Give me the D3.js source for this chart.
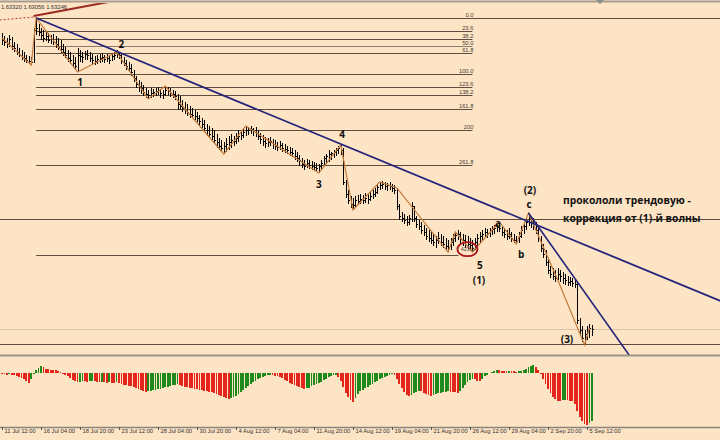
<!DOCTYPE html>
<html><head><meta charset="utf-8">
<script src="https://cdn.jsdelivr.net/npm/d3@7"></script>
<style>html,body{margin:0;padding:0;background:#FDE4C5;overflow:hidden}</style>
</head><body><svg id="c" width="720" height="440"></svg>
<script>
// ---- data (H4 bars, prices in pips above 1.6000) ----
const tickBars = [0,16,32,48,64,80,96,112,128,144,160,176,192,208,224,240];
const tickLabels = ["11 Jul 12:00","16 Jul 04:00","18 Jul 20:00","23 Jul 12:00","28 Jul 04:00","30 Jul 20:00","4 Aug 12:00","7 Aug 04:00","11 Aug 20:00","14 Aug 12:00","19 Aug 04:00","21 Aug 20:00","26 Aug 12:00","29 Aug 04:00","2 Sep 20:00","5 Sep 12:00"];
const highPips = [1146,1137,1131,1140,1134,1119,1113,1101,1095,1089,1080,1077,1074,1161,1191,1173,1161,1155,1149,1146,1140,1143,1137,1131,1125,1113,1104,1095,1089,1080,1074,1101,1095,1089,1092,1095,1089,1083,1077,1080,1083,1086,1080,1083,1080,1086,1089,1095,1089,1083,1074,1065,1059,1053,1035,1017,1005,999,990,981,975,981,978,981,984,978,975,987,984,981,975,972,963,957,945,939,933,927,921,915,909,900,891,885,873,867,861,855,843,831,825,819,831,837,843,837,846,855,849,861,867,864,867,861,864,855,846,840,834,831,834,828,825,819,822,816,813,807,804,801,795,789,780,771,765,768,765,762,759,756,753,765,777,783,795,789,795,801,807,810,801,705,675,657,651,657,660,663,660,666,663,669,675,681,693,699,702,699,696,699,693,690,681,633,609,603,597,600,639,627,597,585,579,570,561,555,549,543,537,549,543,537,531,525,531,543,549,555,549,543,540,537,531,525,531,543,549,555,561,558,561,567,570,573,579,567,561,555,561,549,543,537,549,567,579,591,606,597,591,579,561,537,513,495,471,447,441,435,441,435,429,423,417,414,411,408,399,291,267,255,267,273,270];
const lowPips = [1110,1107,1101,1104,1095,1089,1080,1074,1065,1059,1056,1053,1050,1056,1140,1137,1125,1119,1122,1116,1113,1110,1101,1095,1086,1077,1071,1059,1053,1044,1035,1029,1059,1056,1065,1065,1059,1053,1050,1053,1056,1059,1056,1059,1053,1062,1065,1071,1068,1053,1047,1035,1029,1017,999,981,969,963,957,951,948,951,954,957,960,951,948,957,960,954,951,945,915,915,909,903,897,891,891,885,879,867,861,849,837,831,825,813,801,795,789,783,789,795,801,807,813,819,825,831,837,840,843,837,834,825,813,807,801,804,807,798,795,792,795,789,786,783,777,774,765,759,747,741,735,741,738,735,732,729,726,735,747,753,759,765,771,777,783,780,690,651,633,621,615,624,630,633,633,636,633,642,648,654,663,675,678,675,672,675,669,663,615,585,579,573,567,570,579,579,561,555,543,537,525,519,513,507,501,513,507,501,495,489,495,507,519,525,513,507,501,498,495,489,495,507,516,525,531,531,534,540,543,549,549,537,531,525,528,519,516,513,516,531,543,555,567,561,555,543,519,489,471,447,423,411,405,399,405,399,393,390,387,387,384,381,273,237,219,210,225,231,237];
const closePips = [1125,1119,1113,1128,1107,1101,1089,1080,1074,1071,1065,1062,1059,1155,1161,1149,1140,1131,1137,1125,1128,1119,1113,1104,1098,1089,1080,1071,1065,1056,1047,1080,1077,1074,1083,1080,1071,1065,1062,1068,1071,1074,1068,1071,1065,1077,1080,1086,1080,1065,1056,1047,1041,1029,1011,993,987,981,969,963,960,966,969,972,975,966,963,975,972,966,963,957,933,927,921,915,909,903,900,897,891,882,873,861,855,843,837,825,819,807,801,807,813,819,825,822,831,837,840,849,855,855,858,852,846,837,828,822,816,819,822,813,807,804,810,801,798,795,789,786,777,771,765,753,747,756,750,747,744,741,747,756,771,777,783,786,789,795,801,795,699,663,645,633,630,645,642,648,645,651,648,657,663,669,684,690,693,687,690,687,681,675,627,597,591,585,579,591,627,591,573,567,555,549,537,531,525,519,525,531,519,513,507,501,519,531,540,543,531,525,519,513,510,501,519,531,537,543,549,546,555,558,561,564,561,549,543,537,543,531,525,522,537,555,567,579,591,579,567,555,531,501,483,459,435,423,417,411,423,417,411,405,399,402,396,393,285,255,231,243,255,261,258];
const oscValues = [-1,-1,-1.5,-1,-1.5,-2,-3,-3.5,-4.5,-6,-7.5,-10,-6,-1,3,5.5,7.5,6,4.5,4,3.5,3.5,3,2.5,1,-0.5,-2,-3,-5,-6.5,-7.5,-9,-8.5,-8,-8,-8.5,-8,-7.5,-8,-8.5,-9,-8.5,-9,-9.5,-9,-9.5,-10,-9,-10,-11,-11.5,-12,-12.5,-13,-14,-15,-16,-17,-18,-18.5,-18,-17.5,-17,-16.5,-16,-15.5,-15,-14,-13.5,-13,-12,-11.5,-11,-12,-13,-13.5,-14,-14.5,-15,-15.5,-16,-16.5,-17,-17.5,-18,-18.5,-19,-20,-21,-22,-23,-24,-25,-25.5,-25,-24,-22.5,-21,-19,-17,-15,-13,-11,-9,-7.5,-6,-4.5,-3.5,-2.5,-2,-1.5,-2,-2.5,-3,-4,-5,-6.5,-8,-9.5,-11,-12,-13,-14,-15,-15.5,-15,-14.5,-13,-12,-11,-10,-8.5,-7,-5.5,-4,-3,-2,-1.5,-4,-8,-14,-20,-24,-27,-28.5,-25,-21,-18,-16.5,-15,-13.5,-12,-10.5,-9,-7.5,-6,-4.5,-3.5,-2.5,-1.5,-0.5,-2,-6,-11,-15,-19,-21.5,-23,-21.5,-20,-18.5,-17.5,-18,-19.5,-21,-22,-22.5,-21.5,-20.5,-20,-19.5,-19,-18.5,-18,-18.5,-19,-19,-19.5,-18,-15,-12,-9,-7,-5.5,-6,-7.5,-8,-5.5,-3,-1.5,0.5,1.5,2.5,3,3,2.5,2.5,2,2.5,2,2,1.5,2,2.5,3.5,4.5,6,7.5,8,6.5,3,-1,-6,-11,-16,-20,-24,-26,-27.5,-27.5,-27,-26.5,-27,-27.5,-28,-31,-38,-44,-48,-51,-52,-50,-48];
const fibLevels = [0,23.6,38.2,50,61.8,100,123.6,138.2,161.8,200,261.8,423.6];
const fibLabels = ["0.0","23.6","38.2","50.0","61.8","100.0","123.6","138.2","161.8","200","261.8","423.6"];
const fibFrom = [14,1191], fibTo = [31,1023], fibEndBar = 193;
const zigzag = [[0,1131],[12,1050],[14,1191],[31,1029],[47,1089],[60,948],[67,987],[91,783],[100,867],[130,726],[139,810],[144,615],[155,699],[162,681],[183,489],[186,549],[193,489],[204,579],[211,513],[216,606],[228,405],[239,210],[241,261]];
const trendMain = [[14,1191],[139,813]];
const trendSteep = [[216,606],[256.4,189]];
const redTrend = [[13,1197],[48,1245]];
const redDashed = [[-1,1185],[13,1194]];
const levelLines = [588,213];
const waveLabels = [["1",32,999],["2",49,1113],["3",130,693],["4",139.5,843],["5",196,450],["(1)",195.7,405],["a",203.5,576],["b",213,483],["c",216.2,633],["(2)",216.6,675],["(3)",231.8,228]];
const noteLines = ["прокололи трендовую -","коррекция от (1)-й волны"];
const headerText = "1.63320 1.63056 1.63246";

// ---- scales ----
const svg = d3.select("#c");
const W = 720, mainBottom = 355;
const x = d3.scaleLinear().domain([0,240]).range([2,587]);
const toPrice = v => 1.6 + v/10000;
const y = d3.scaleLinear().domain([1.7245,1.6189]).range([0,352]);
const yp = v => y(toPrice(v));
const yo = d3.scaleLinear().domain([16,-53]).range([357,426]);
const iRight = x.invert(W);

const bg = "#FDE4C5";
svg.append("rect").attr("width",W).attr("height",440).attr("fill",bg);
svg.append("defs").append("clipPath").attr("id","main").append("rect").attr("x",0).attr("y",3).attr("width",W).attr("height",mainBottom-3);
const g = svg.append("g").attr("clip-path","url(#main)");

// top border
svg.append("line").attr("x1",0).attr("x2",W).attr("y1",1.5).attr("y2",1.5).attr("stroke","#a89d92").attr("stroke-width",2);
svg.append("path").attr("d","M596,0L604,0L600,4Z").attr("fill","#8c8c8c");

// Fibonacci lines
const fibP = L => fibFrom[1] - (fibFrom[1]-fibTo[1])*L/100;
fibLevels.forEach((L,k)=>{
  const yy = Math.round(yp(fibP(L)))+0.5;
  const xEnd = k===0 ? W : (L===423.6 ? x(fibEndBar)-14 : x(fibEndBar));
  g.append("line").attr("x1",x(fibFrom[0])).attr("x2",xEnd).attr("y1",yy).attr("y2",yy)
   .attr("stroke", L===50 ? "#8a7b6c" : "#5e4c3c").attr("stroke-width",1);
  if (L!==423.6) {
    g.append("text").attr("x",x(fibEndBar)+1).attr("y",yy-2).attr("text-anchor","end")
     .attr("font-family","Liberation Sans, Arial").attr("font-size",5.8).attr("fill","#4a4038").text(fibLabels[k]);
  }
});

// horizontal level lines
levelLines.forEach(v=>{
  const yy = Math.round(yp(v))+0.5;
  g.append("line").attr("x1",0).attr("x2",W).attr("y1",yy).attr("y2",yy).attr("stroke","#5e4c3c").attr("stroke-width",1);
});
// bid line
const lastClose = closePips[closePips.length-1];
g.append("line").attr("x1",0).attr("x2",W).attr("y1",Math.round(yp(lastClose))+0.5).attr("y2",Math.round(yp(lastClose))+0.5)
 .attr("stroke","#dcc4aa").attr("stroke-width",1);

// bars (OHLC)
const bars = g.append("g").attr("stroke","#000").attr("stroke-width",1).attr("shape-rendering","crispEdges");
highPips.forEach((h,i)=>{
  const xx = Math.round(x(i))+0.5;
  bars.append("line").attr("x1",xx).attr("x2",xx).attr("y1",yp(h)).attr("y2",yp(lowPips[i]));
  const yc = Math.round(yp(closePips[i]))+0.5;
  bars.append("line").attr("x1",xx).attr("x2",xx+1).attr("y1",yc).attr("y2",yc);
  if (i>0) {
    const yo2 = Math.round(yp(closePips[i-1]))+0.5;
    bars.append("line").attr("x1",xx-1).attr("x2",xx).attr("y1",yo2).attr("y2",yo2);
  }
});

// zigzag
g.append("path").datum(zigzag).attr("fill","none").attr("stroke","#C47A3A").attr("stroke-width",1.2)
 .attr("d",d3.line().x(d=>x(d[0])).y(d=>yp(d[1])));

// extended trend lines
function ext(pts, i0, i1){
  const [a,b]=pts; const s=(b[1]-a[1])/(b[0]-a[0]);
  return [[i0, a[1]+s*(i0-a[0])],[i1, a[1]+s*(i1-a[0])]];
}
const ln = d3.line().x(d=>x(d[0])).y(d=>yp(d[1]));
g.append("path").attr("d",ln(ext(trendMain,trendMain[0][0],iRight+2))).attr("stroke","#24247a").attr("stroke-width",1.8).attr("fill","none");
g.append("path").attr("d",ln(ext(trendSteep,trendSteep[0][0],trendSteep[1][0]+3))).attr("stroke","#24247a").attr("stroke-width",1.6).attr("fill","none");
g.append("path").attr("d",ln(ext(redTrend,redTrend[0][0],redTrend[1][0]+10))).attr("stroke","#9b2a22").attr("stroke-width",2).attr("fill","none");
g.append("path").attr("d",ln(redDashed)).attr("stroke","#b03a30").attr("stroke-width",1).attr("stroke-dasharray","2,2").attr("fill","none");

// red circle around 423.6
const fib4236 = fibP(423.6);
const cx = x(fibEndBar)-5, cy = yp(fib4236)-6;
g.append("ellipse").attr("cx",cx).attr("cy",cy).attr("rx",10).attr("ry",7).attr("fill","none").attr("stroke","#a8141c").attr("stroke-width",1.8);
g.append("text").attr("x",cx).attr("y",cy+2).attr("text-anchor","middle").attr("font-family","Liberation Sans, Arial").attr("font-size",5.4).attr("fill","#4a4038").text(fibLabels[11]);

// wave labels
waveLabels.forEach(([t,i,v])=>{
  g.append("text").attr("x",x(i)).attr("y",yp(v)).attr("dominant-baseline","central").attr("text-anchor","middle")
   .attr("font-family","Open Sans, Noto Sans, sans-serif").attr("font-weight",700).attr("font-size",10).attr("fill","#111").text(t);
});
// note
noteLines.forEach((t,k)=>{
  g.append("text").attr("x",563).attr("y",204+k*18).attr("font-family","Open Sans, Noto Sans, sans-serif").attr("font-weight",700)
   .attr("font-size",10.3).attr("fill","#111").text(t);
});

// header text
svg.append("text").attr("x",1).attr("y",9).attr("font-family","Liberation Sans, Arial").attr("font-size",5.8).attr("fill","#333").text(headerText);

// panel separator
svg.append("line").attr("x1",0).attr("x2",W).attr("y1",mainBottom+0.5).attr("y2",mainBottom+0.5).attr("stroke","#9a948c").attr("stroke-width",2);

// oscillator histogram
const hg = svg.append("g").attr("shape-rendering","crispEdges");
oscValues.forEach((v,i)=>{
  const prev = i>0 ? oscValues[i-1] : v;
  const col = v>prev ? "#1f8a1c" : "#e3261c";
  const y0 = yo(0), y1 = yo(v);
  hg.append("rect").attr("x",x(i)-0.9).attr("width",1.8).attr("y",Math.min(y0,y1)).attr("height",Math.max(0.8,Math.abs(y1-y0))).attr("fill",col);
});

// time axis
const ax = svg.append("g").attr("transform","translate(0,427)")
  .call(d3.axisBottom(x).tickValues(tickBars).tickFormat((d,k)=>tickLabels[k]).tickSize(3).tickSizeOuter(0));
ax.select(".domain").attr("stroke","#8a847c").attr("stroke-width",1.5).attr("d","M0,0.5H720");
ax.selectAll(".tick line").attr("stroke","#555");
ax.selectAll(".tick text").attr("text-anchor","start").attr("dx",2).attr("dy",-0.5)
  .attr("font-family","Liberation Sans, Arial").attr("font-size",5.8).attr("fill","#333");
</script></body></html>
